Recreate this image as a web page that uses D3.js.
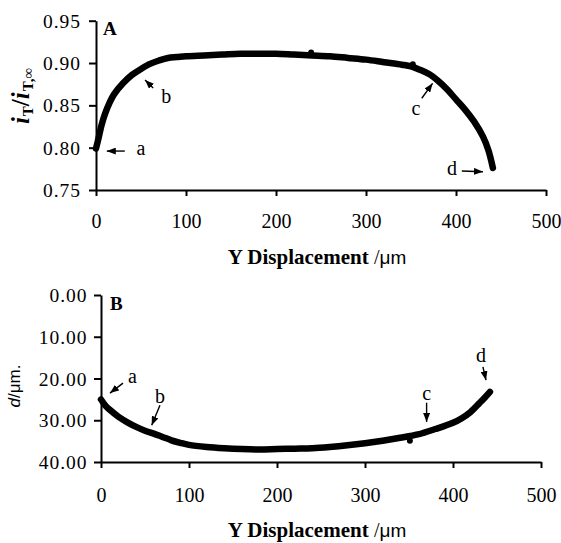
<!DOCTYPE html>
<html>
<head>
<meta charset="utf-8">
<script src="https://cdn.jsdelivr.net/npm/d3@7"></script>
<style>
  html, body { margin: 0; padding: 0; background: #fff; }
  svg { display: block; }
  text { font-family: "Liberation Serif", "Times New Roman", serif; fill: #000; }
</style>
</head>
<body>
<svg id="fig" width="561" height="543"></svg>
<script>
// ---- Data -------------------------------------------------------------
// Panel A: normalised tip current along the Y scan
const scanXA = [0, 3, 6, 10, 15, 20, 30, 40, 50, 60, 70, 80, 90, 100, 120, 140, 160, 180,
                200, 220, 240, 260, 280, 300, 320, 340, 350, 360, 370, 380, 390, 400,
                410, 420, 430, 436, 441];
const currentRatio = [0.799, 0.812, 0.826, 0.840, 0.853, 0.863, 0.876, 0.886, 0.893, 0.899,
                      0.903, 0.906, 0.907, 0.908, 0.909, 0.910, 0.911, 0.911, 0.911, 0.910,
                      0.909, 0.908, 0.906, 0.904, 0.901, 0.898, 0.896, 0.892, 0.887, 0.879,
                      0.869, 0.857, 0.845, 0.831, 0.813, 0.797, 0.776];
// Panel B: tip–substrate distance along the same scan
const scanXB = [0, 5, 10, 20, 30, 40, 50, 60, 70, 80, 90, 100, 120, 140, 160, 180, 200, 220,
                240, 260, 280, 300, 320, 340, 360, 380, 400, 410, 420, 430, 436, 442];
const distance = [25.0, 26.5, 27.5, 29.2, 30.5, 31.6, 32.5, 33.2, 34.0, 34.8, 35.4, 35.9,
                  36.4, 36.7, 36.9, 37.0, 36.9, 36.8, 36.7, 36.4, 36.0, 35.5, 34.9, 34.2,
                  33.4, 32.1, 30.6, 29.5, 28.0, 25.9, 24.6, 23.2];
// isolated stray readings
const strayA = [[239, 0.9125], [352, 0.8985]];
const strayB = [[351, 34.9]];

// Tick values
const xTicks = [0, 100, 200, 300, 400, 500];
const ratioTicks = [0.75, 0.80, 0.85, 0.90, 0.95];
const distTicks = [0, 10, 20, 30, 40];

// Letter annotations: label baseline point and arrow (tail -> head), in data units
const notesA = [
  { label: "a", at: [50, 0.7914], tail: [32, 0.796], head: [12, 0.796] },
  { label: "b", at: [78, 0.8528], tail: [63.5, 0.8706], head: [54.5, 0.880] },
  { label: "c", at: [355.5, 0.8387], tail: [362, 0.8584], head: [374, 0.876] },
  { label: "d", at: [395.5, 0.7677], tail: [406.5, 0.7725], head: [430, 0.7716] }
];
const notesB = [
  { label: "a", at: [35.8, 21.1], tail: [25, 21.1], head: [10.2, 23.5] },
  { label: "b", at: [67, 25.9], tail: [67, 26.4], head: [57.6, 31.2] },
  { label: "c", at: [370, 25.2], tail: [370, 25.8], head: [370, 30.4] },
  { label: "d", at: [431.8, 16.1], tail: [434, 17.2], head: [437.5, 20.4] }
];

// ---- Drawing ----------------------------------------------------------
const svg = d3.select("#fig");

svg.append("defs").append("marker")
  .attr("id", "arrowhead")
  .attr("viewBox", "0 0 9 7")
  .attr("refX", 9).attr("refY", 3.5)
  .attr("markerWidth", 9).attr("markerHeight", 7)
  .attr("markerUnits", "userSpaceOnUse")
  .attr("orient", "auto")
  .append("path").attr("d", "M0,0 L9,3.5 L0,7 Z").attr("fill", "#000");

function panel(cfg) {
  const x = d3.scaleLinear().domain([0, 500]).range([cfg.left, cfg.right]);
  const y = d3.scaleLinear().domain(cfg.yDomain).range([cfg.bottom, cfg.top]);
  const g = svg.append("g");

  // y axis
  const yAxis = g.append("g")
    .attr("transform", `translate(${cfg.left},0)`)
    .call(d3.axisLeft(y).tickValues(cfg.yTicks).tickFormat(cfg.yFormat)
      .tickSize(7).tickSizeOuter(0).tickPadding(cfg.yPad));
  // x axis
  const xAxis = g.append("g")
    .attr("transform", `translate(0,${cfg.bottom})`)
    .call(d3.axisBottom(x).tickValues(xTicks).tickFormat(d3.format("d"))
      .tickSize(6).tickSizeOuter(0));

  [yAxis, xAxis].forEach(a => {
    a.attr("font-family", null).attr("font-size", null);
    a.selectAll("path.domain").attr("stroke", "#000").attr("stroke-width", 2);
    a.selectAll(".tick line").attr("stroke", "#000").attr("stroke-width", 2);
  });
  yAxis.selectAll(".tick text")
    .style("font-size", "19.5px").style("letter-spacing", "1px")
    .attr("dy", "0.34em");
  xAxis.selectAll(".tick text")
    .style("font-size", "20px")
    .attr("y", cfg.xLabelOffset).attr("dy", 0);

  // measured curve
  const line = d3.line().x(d => x(d[0])).y(d => y(d[1])).curve(d3.curveCatmullRom.alpha(0.5));
  g.append("path")
    .datum(cfg.xs.map((v, i) => [v, cfg.ys[i]]))
    .attr("d", line)
    .attr("fill", "none").attr("stroke", "#000")
    .attr("stroke-width", cfg.lineWidth)
    .attr("stroke-linecap", "round").attr("stroke-linejoin", "round");

  g.selectAll("circle.stray").data(cfg.stray).join("circle")
    .attr("class", "stray")
    .attr("cx", d => x(d[0])).attr("cy", d => y(d[1])).attr("r", 3).attr("fill", "#000");

  // letter annotations
  g.selectAll("line.note").data(cfg.notes).join("line")
    .attr("class", "note")
    .attr("x1", d => x(d.tail[0])).attr("y1", d => y(d.tail[1]))
    .attr("x2", d => x(d.head[0])).attr("y2", d => y(d.head[1]))
    .attr("stroke", "#000").attr("stroke-width", 1.4)
    .attr("marker-end", "url(#arrowhead)");
  g.selectAll("text.note").data(cfg.notes).join("text")
    .attr("class", "note")
    .attr("x", d => x(d.at[0])).attr("y", d => y(d.at[1]))
    .attr("text-anchor", "middle")
    .style("font-size", "20px")
    .text(d => d.label);

  // panel letter
  g.append("text")
    .attr("x", cfg.left + cfg.tagDx).attr("y", cfg.top + 14.5)
    .style("font-size", "19px").style("font-weight", "bold")
    .text(cfg.tag);

  // x title
  const t = g.append("text")
    .attr("x", (cfg.left + cfg.right) / 2 - 4).attr("y", cfg.titleY)
    .attr("text-anchor", "middle");
  t.append("tspan").style("font-size", "21px").style("font-weight", "bold").text("Y Displacement ");
  t.append("tspan").style("font-size", "20px").text("/");
  t.append("tspan").style("font-size", "19px")
    .style("font-family", "'Liberation Sans', Arial, sans-serif").text("μm");

  return { x, y, g };
}

panel({
  left: 96, right: 546, top: 20.7, bottom: 190,
  yDomain: [0.75, 0.95], yTicks: ratioTicks, yFormat: d3.format(".2f"), yPad: 8,
  xLabelOffset: 38, titleY: 264,
  xs: scanXA, ys: currentRatio, stray: strayA, notes: notesA,
  lineWidth: 6.5, tag: "A", tagDx: 7
});

panel({
  left: 101, right: 541, top: 295, bottom: 462,
  yDomain: [40, 0], yTicks: distTicks, yFormat: d3.format(".2f"), yPad: 6.5,
  xLabelOffset: 40, titleY: 537,
  xs: scanXB, ys: distance, stray: strayB, notes: notesB,
  lineWidth: 6.5, tag: "B", tagDx: 9
});

// y-axis titles
const yTitleA = svg.append("g").attr("transform", "translate(29,96) rotate(-90)")
  .append("text").attr("text-anchor", "middle").style("font-weight", "bold");
yTitleA.append("tspan").style("font-size", "25px").style("font-style", "italic").text("i");
yTitleA.append("tspan").style("font-size", "15px").attr("dy", 4).attr("dx", 1).text("T");
yTitleA.append("tspan").style("font-size", "25px").attr("dy", -4).text("/");
yTitleA.append("tspan").style("font-size", "25px").style("font-style", "italic").text("i");
yTitleA.append("tspan").style("font-size", "15px").attr("dy", 4).attr("dx", 1).text("T,∞");

const yTitleB = svg.append("g").attr("transform", "translate(20,386) rotate(-90)")
  .append("text").attr("text-anchor", "middle")
  .style("font-family", "'Liberation Sans', Arial, sans-serif").style("font-size", "17px");
yTitleB.append("tspan").style("font-style", "italic").text("d");
yTitleB.append("tspan").text("/μm.");
</script>
</body>
</html>
